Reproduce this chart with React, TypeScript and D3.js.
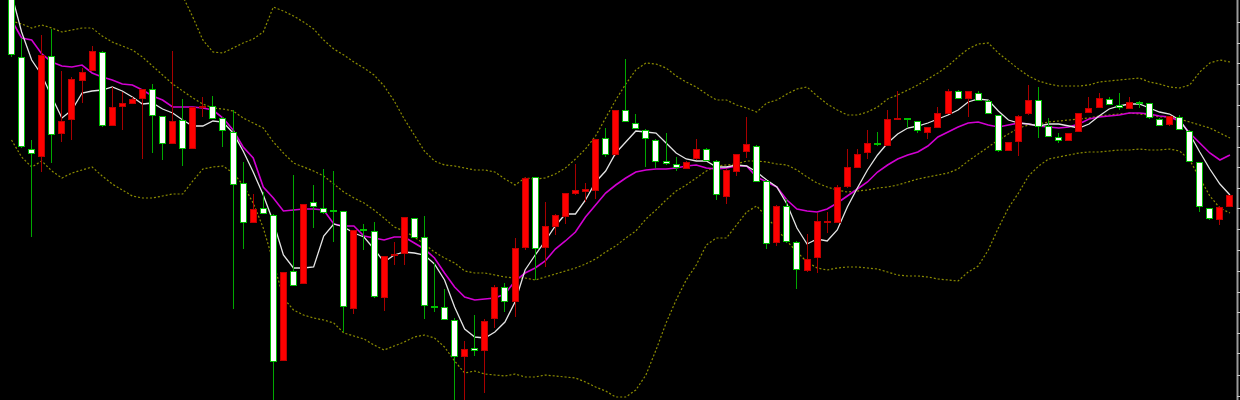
import React, { useEffect, useRef } from 'react';
import * as d3 from 'd3';

const WIDTH = 1240;
const HEIGHT = 400;

// candles, oldest first (quotes)
const open = [
  1.1404, 1.1343, 1.1251, 1.1243, 1.1344, 1.1266, 1.1280, 1.1319, 1.1329, 1.1348,
  1.1274, 1.1293, 1.1296, 1.1301, 1.1311, 1.1284, 1.1256, 1.1280, 1.1251, 1.1292,
  1.1294, 1.1282, 1.1268, 1.1217, 1.1177, 1.1192, 1.1185, 1.1039, 1.1129, 1.1116,
  1.1198, 1.1192, 1.1190, 1.1189, 1.1091, 1.1171, 1.1169, 1.1102, 1.1144, 1.1146,
  1.1182, 1.1163, 1.1094, 1.1093, 1.1080, 1.1043, 1.1052, 1.1049, 1.1081, 1.1113,
  1.1098, 1.1152, 1.1223, 1.1152, 1.1173, 1.1183, 1.1206, 1.1208, 1.1209, 1.1262,
  1.1245, 1.1290, 1.1277, 1.1270, 1.1260, 1.1239, 1.1236, 1.1231, 1.1241, 1.1251,
  1.1239, 1.1203, 1.1228, 1.1248, 1.1254, 1.1219, 1.1157, 1.1194, 1.1158, 1.1129,
  1.1142, 1.1178, 1.1177, 1.1213, 1.1232, 1.1247, 1.1257, 1.1254, 1.1281, 1.1282,
  1.1279, 1.1267, 1.1272, 1.1286, 1.1309, 1.1301, 1.1307, 1.1299, 1.1285, 1.1249,
  1.1258, 1.1286, 1.1300, 1.1274, 1.1263, 1.1259, 1.1268, 1.1287, 1.1292, 1.1301,
  1.1295, 1.1291, 1.1298, 1.1297, 1.1281, 1.1275, 1.1283, 1.1269, 1.1238, 1.1192,
  1.1180, 1.1193,
];
const high = [
  1.1410, 1.1362, 1.1260, 1.1365, 1.1371, 1.1329, 1.1323, 1.1332, 1.1354, 1.1349,
  1.1313, 1.1308, 1.1303, 1.1311, 1.1316, 1.1284, 1.1349, 1.1301, 1.1293, 1.1303,
  1.1304, 1.1283, 1.1290, 1.1238, 1.1206, 1.1208, 1.1186, 1.1128, 1.1225, 1.1196,
  1.1215, 1.1231, 1.1229, 1.1189, 1.1170, 1.1176, 1.1178, 1.1144, 1.1158, 1.1183,
  1.1182, 1.1184, 1.1137, 1.1111, 1.1082, 1.1059, 1.1085, 1.1081, 1.1115, 1.1117,
  1.1162, 1.1223, 1.1223, 1.1198, 1.1186, 1.1207, 1.1236, 1.1217, 1.1261, 1.1272,
  1.1290, 1.1341, 1.1286, 1.1271, 1.1261, 1.1267, 1.1243, 1.1239, 1.1261, 1.1252,
  1.1240, 1.1231, 1.1246, 1.1283, 1.1255, 1.1220, 1.1195, 1.1201, 1.1159, 1.1166,
  1.1187, 1.1188, 1.1215, 1.1251, 1.1251, 1.1270, 1.1268, 1.1290, 1.1309, 1.1282,
  1.1279, 1.1273, 1.1293, 1.1311, 1.1310, 1.1309, 1.1309, 1.1300, 1.1285, 1.1258,
  1.1285, 1.1315, 1.1313, 1.1282, 1.1267, 1.1267, 1.1287, 1.1303, 1.1307, 1.1303,
  1.1307, 1.1303, 1.1299, 1.1297, 1.1282, 1.1284, 1.1285, 1.1270, 1.1238, 1.1192,
  1.1194, 1.1205,
];
const low = [
  1.1343, 1.1252, 1.1163, 1.1228, 1.1237, 1.1258, 1.1260, 1.1297, 1.1329, 1.1273,
  1.1274, 1.1270, 1.1296, 1.1241, 1.1247, 1.1240, 1.1256, 1.1234, 1.1251, 1.1283,
  1.1281, 1.1253, 1.1091, 1.1151, 1.1177, 1.1186, 1.0990, 1.1039, 1.1114, 1.1116,
  1.1172, 1.1186, 1.1158, 1.1068, 1.1086, 1.1150, 1.1102, 1.1089, 1.1135, 1.1135,
  1.1162, 1.1081, 1.1088, 1.1080, 1.0990, 1.0990, 1.1044, 1.1007, 1.1072, 1.1088,
  1.1083, 1.1150, 1.1120, 1.1133, 1.1165, 1.1176, 1.1205, 1.1198, 1.1201, 1.1243,
  1.1244, 1.1278, 1.1271, 1.1233, 1.1232, 1.1235, 1.1229, 1.1231, 1.1240, 1.1239,
  1.1200, 1.1196, 1.1224, 1.1242, 1.1218, 1.1151, 1.1154, 1.1157, 1.1111, 1.1128,
  1.1127, 1.1167, 1.1177, 1.1212, 1.1232, 1.1241, 1.1254, 1.1254, 1.1280, 1.1272,
  1.1267, 1.1261, 1.1272, 1.1286, 1.1301, 1.1283, 1.1299, 1.1286, 1.1248, 1.1249,
  1.1244, 1.1285, 1.1262, 1.1263, 1.1257, 1.1259, 1.1268, 1.1287, 1.1292, 1.1295,
  1.1290, 1.1291, 1.1292, 1.1281, 1.1274, 1.1274, 1.1270, 1.1238, 1.1188, 1.1180,
  1.1175, 1.1193,
];
const close = [
  1.1345, 1.1253, 1.1246, 1.1345, 1.1265, 1.1279, 1.1321, 1.1328, 1.1349, 1.1274,
  1.1293, 1.1297, 1.1301, 1.1311, 1.1284, 1.1256, 1.1279, 1.1251, 1.1293, 1.1294,
  1.1281, 1.1269, 1.1215, 1.1177, 1.1191, 1.1186, 1.1038, 1.1128, 1.1114, 1.1196,
  1.1193, 1.1187, 1.1189, 1.1093, 1.1170, 1.1169, 1.1103, 1.1144, 1.1146, 1.1183,
  1.1162, 1.1094, 1.1093, 1.1080, 1.1043, 1.1051, 1.1049, 1.1079, 1.1113, 1.1098,
  1.1152, 1.1222, 1.1151, 1.1174, 1.1185, 1.1207, 1.1210, 1.1211, 1.1261, 1.1245,
  1.1290, 1.1278, 1.1271, 1.1261, 1.1238, 1.1236, 1.1232, 1.1238, 1.1251, 1.1239,
  1.1205, 1.1230, 1.1246, 1.1256, 1.1218, 1.1156, 1.1194, 1.1158, 1.1130, 1.1141,
  1.1179, 1.1179, 1.1213, 1.1233, 1.1246, 1.1257, 1.1255, 1.1281, 1.1282, 1.1280,
  1.1269, 1.1273, 1.1287, 1.1309, 1.1301, 1.1309, 1.1299, 1.1286, 1.1249, 1.1258,
  1.1284, 1.1300, 1.1273, 1.1263, 1.1259, 1.1267, 1.1287, 1.1292, 1.1302, 1.1295,
  1.1292, 1.1298, 1.1296, 1.1282, 1.1274, 1.1284, 1.1270, 1.1238, 1.1193, 1.1181,
  1.1193, 1.1205,
];

// indicator lines, one value per candle
const maFast = [
  1.1406, 1.1368, 1.1340, 1.1325, 1.1303, 1.1282, 1.1290, 1.1307, 1.1309, 1.1310,
  1.1313, 1.1309, 1.1303, 1.1296, 1.1297, 1.1291, 1.1287, 1.1280, 1.1274, 1.1274,
  1.1279, 1.1278, 1.1267, 1.1249, 1.1228, 1.1205, 1.1178, 1.1145, 1.1132, 1.1132,
  1.1133, 1.1164, 1.1176, 1.1173, 1.1167, 1.1163, 1.1151, 1.1138, 1.1145, 1.1148,
  1.1147, 1.1145, 1.1136, 1.1120, 1.1093, 1.1071, 1.1063, 1.1062, 1.1068, 1.1078,
  1.1098, 1.1130, 1.1145, 1.1159, 1.1174, 1.1186, 1.1186, 1.1200, 1.1218, 1.1229,
  1.1247, 1.1258, 1.1269, 1.1268, 1.1267, 1.1257, 1.1247, 1.1241, 1.1239, 1.1239,
  1.1233, 1.1233, 1.1235, 1.1234, 1.1228, 1.1220, 1.1213, 1.1196, 1.1172, 1.1156,
  1.1161, 1.1159, 1.1170, 1.1193, 1.1212, 1.1230, 1.1245, 1.1257, 1.1266, 1.1272,
  1.1274, 1.1277, 1.1281, 1.1285, 1.1290, 1.1298, 1.1301, 1.1300, 1.1289, 1.1280,
  1.1277, 1.1276, 1.1274, 1.1276, 1.1276, 1.1274, 1.1272, 1.1276, 1.1284, 1.1291,
  1.1294, 1.1296, 1.1296, 1.1292, 1.1288, 1.1286, 1.1280, 1.1266, 1.1248, 1.1231,
  1.1216, 1.1205,
];
const maSlow = [
  1.1380, 1.1362, 1.1360, 1.1346, 1.1338, 1.1334, 1.1333, 1.1335, 1.1327, 1.1323,
  1.1320, 1.1316, 1.1315, 1.1310, 1.1304, 1.1300, 1.1293, 1.1293, 1.1293, 1.1292,
  1.1290, 1.1282, 1.1270, 1.1253, 1.1242, 1.1213, 1.1202, 1.1189, 1.1190, 1.1191,
  1.1191, 1.1190, 1.1176, 1.1174, 1.1174, 1.1164, 1.1162, 1.1160, 1.1163, 1.1163,
  1.1157, 1.1151, 1.1142, 1.1127, 1.1113, 1.1103, 1.1100, 1.1101, 1.1102, 1.1106,
  1.1119, 1.1127, 1.1132, 1.1139, 1.1151, 1.1159, 1.1168, 1.1183, 1.1195, 1.1207,
  1.1215, 1.1222, 1.1228, 1.1230, 1.1231, 1.1231, 1.1232, 1.1234, 1.1235, 1.1232,
  1.1231, 1.1232, 1.1234, 1.1234, 1.1223, 1.1218, 1.1213, 1.1200, 1.1191, 1.1189,
  1.1188, 1.1191, 1.1197, 1.1204, 1.1211, 1.1218, 1.1228, 1.1235, 1.1241, 1.1245,
  1.1248, 1.1254, 1.1263, 1.1268, 1.1273, 1.1277, 1.1278, 1.1275, 1.1273, 1.1275,
  1.1277, 1.1276, 1.1274, 1.1273, 1.1272, 1.1273, 1.1276, 1.1281, 1.1283, 1.1284,
  1.1285, 1.1287, 1.1287, 1.1286, 1.1284, 1.1283, 1.1279, 1.1267, 1.1257, 1.1247,
  1.1240, 1.1245,
];
// upper band is above the window for the first bars
const bbUpper = [
  null, null, null, null, null, null, null, null, null, null,
  null, null, null, null, null, null, 1.1422, 1.1404, 1.1383, 1.1360,
  1.1348, 1.1347, 1.1352, 1.1357, 1.1361, 1.1368, 1.1393, 1.1389, 1.1384, 1.1378,
  1.1371, 1.1360, 1.1351, 1.1345, 1.1338, 1.1332, 1.1325, 1.1314, 1.1299, 1.1281,
  1.1265, 1.1249, 1.1239, 1.1235, 1.1234, 1.1232, 1.1230, 1.1230, 1.1228, 1.1221,
  1.1215, 1.1222, 1.1221, 1.1222, 1.1226, 1.1232, 1.1241, 1.1251, 1.1264, 1.1282,
  1.1300, 1.1316, 1.1330, 1.1337, 1.1336, 1.1332, 1.1324, 1.1318, 1.1313, 1.1306,
  1.1300, 1.1300, 1.1295, 1.1292, 1.1288, 1.1297, 1.1300, 1.1306, 1.1311, 1.1313,
  1.1304, 1.1296, 1.1290, 1.1285, 1.1285, 1.1288, 1.1293, 1.1301, 1.1305, 1.1310,
  1.1315, 1.1321, 1.1327, 1.1334, 1.1343, 1.1351, 1.1356, 1.1357, 1.1347, 1.1339,
  1.1331, 1.1324, 1.1319, 1.1316, 1.1314, 1.1314, 1.1314, 1.1315, 1.1318, 1.1319,
  1.1320, 1.1321, 1.1322, 1.1318, 1.1316, 1.1313, 1.1312, 1.1315, 1.1328, 1.1337,
  1.1340, 1.1338,
];
const bbMiddle = [
  1.1379, 1.1376, 1.1372, 1.1375, 1.1372, 1.1368, 1.1370, 1.1372, 1.1372, 1.1364,
  1.1358, 1.1354, 1.1350, 1.1343, 1.1334, 1.1325, 1.1316, 1.1309, 1.1302, 1.1296,
  1.1292, 1.1291, 1.1289, 1.1282, 1.1277, 1.1272, 1.1258, 1.1247, 1.1237, 1.1233,
  1.1229, 1.1224, 1.1216, 1.1208, 1.1202, 1.1197, 1.1190, 1.1182, 1.1173, 1.1169,
  1.1163, 1.1156, 1.1148, 1.1142, 1.1137, 1.1129, 1.1127, 1.1127, 1.1125, 1.1123,
  1.1122, 1.1122, 1.1120, 1.1123, 1.1126, 1.1129, 1.1132, 1.1136, 1.1141, 1.1148,
  1.1154, 1.1162, 1.1169, 1.1181, 1.1190, 1.1200, 1.1209, 1.1215, 1.1222, 1.1229,
  1.1234, 1.1235, 1.1236, 1.1239, 1.1239, 1.1238, 1.1236, 1.1235, 1.1230, 1.1223,
  1.1217, 1.1213, 1.1210, 1.1208, 1.1209, 1.1210, 1.1212, 1.1213, 1.1215, 1.1218,
  1.1221, 1.1223, 1.1225, 1.1227, 1.1231, 1.1239, 1.1246, 1.1253, 1.1260, 1.1266,
  1.1272, 1.1275, 1.1276, 1.1278, 1.1279, 1.1280, 1.1281, 1.1282, 1.1284, 1.1285,
  1.1286, 1.1287, 1.1286, 1.1285, 1.1283, 1.1283, 1.1281, 1.1278, 1.1275, 1.1272,
  1.1267, 1.1262,
];
const bbLower = [
  1.1260, 1.1243, 1.1233, 1.1239, 1.1229, 1.1222, 1.1227, 1.1230, 1.1233, 1.1224,
  1.1216, 1.1210, 1.1204, 1.1202, 1.1202, 1.1204, 1.1206, 1.1206, 1.1219, 1.1231,
  1.1233, 1.1234, 1.1227, 1.1215, 1.1197, 1.1172, 1.1138, 1.1102, 1.1090, 1.1085,
  1.1082, 1.1080, 1.1077, 1.1067, 1.1064, 1.1061, 1.1055, 1.1050, 1.1054, 1.1058,
  1.1063, 1.1065, 1.1062, 1.1053, 1.1039, 1.1027, 1.1029, 1.1026, 1.1025, 1.1024,
  1.1026, 1.1023, 1.1023, 1.1025, 1.1024, 1.1023, 1.1022, 1.1018, 1.1013, 1.1009,
  1.1003, 1.1003, 1.1010, 1.1025, 1.1050, 1.1077, 1.1100, 1.1120, 1.1135, 1.1155,
  1.1162, 1.1162, 1.1175, 1.1188, 1.1194, 1.1183, 1.1171, 1.1159, 1.1148, 1.1138,
  1.1132, 1.1130, 1.1132, 1.1133, 1.1133, 1.1132, 1.1131, 1.1128, 1.1125, 1.1124,
  1.1124, 1.1123, 1.1121, 1.1120, 1.1119, 1.1128, 1.1134, 1.1150, 1.1172, 1.1192,
  1.1207, 1.1224, 1.1234, 1.1241, 1.1243, 1.1245, 1.1247, 1.1248, 1.1248, 1.1249,
  1.1250, 1.1250, 1.1251, 1.1250, 1.1250, 1.1251, 1.1249, 1.1240, 1.1222, 1.1204,
  1.1192, 1.1187,
];

// price scale notches on the right edge (no labels in the picture)
const priceTicks = [
  1.1378, 1.1357, 1.1337, 1.1316, 1.1295, 1.1274, 1.1253, 1.1233, 1.1212, 1.1192,
  1.1171, 1.1150, 1.1129, 1.1108, 1.1088, 1.1067, 1.1047, 1.1025, 1.1004,
];

const PLOT_RIGHT = 1236;

export default function App() {
  const svgRef = useRef<SVGSVGElement>(null);

  useEffect(() => {
    if (!svgRef.current) return;
    const svg = d3.select(svgRef.current);
    svg.selectAll('*').remove();

    const idx = d3.range(open.length);
    const x = d3.scaleBand<number>().domain(idx).range([6.5, 1235]);
    const y = d3.scaleLinear().domain([1.1, 1.14]).range([HEIGHT, 0]);
    const mid = (i: number) => (x(i) as number) + x.bandwidth() / 2;
    const cx = (i: number) => Math.floor(mid(i)) + 0.5;

    svg.append('rect').attr('width', WIDTH).attr('height', HEIGHT).attr('fill', '#000');

    svg.append('defs').append('clipPath').attr('id', 'plot-clip')
      .append('rect').attr('width', PLOT_RIGHT).attr('height', HEIGHT);
    const g = svg.append('g').attr('clip-path', 'url(#plot-clip)');

    const pathFor = (vals: (number | null)[]) =>
      d3.line<number>()
        .defined(i => vals[i] != null)
        .x(i => mid(i))
        .y(i => y(vals[i] as number))(idx);

    // bollinger bands
    [bbUpper, bbMiddle, bbLower].forEach(vals => {
      g.append('path')
        .attr('d', pathFor(vals))
        .attr('fill', 'none')
        .attr('stroke', '#8c8c00')
        .attr('stroke-width', 1.2)
        .attr('stroke-dasharray', '2,2');
    });

    // moving averages
    g.append('path')
      .attr('d', pathFor(maSlow))
      .attr('fill', 'none')
      .attr('stroke', '#d200d2')
      .attr('stroke-width', 1.6);
    g.append('path')
      .attr('d', pathFor(maFast))
      .attr('fill', 'none')
      .attr('stroke', '#e4e4e4')
      .attr('stroke-width', 1.3);

    // candles on top: rising = red, falling = white with green outline
    const up = (i: number) => close[i] > open[i];
    const candles = g.selectAll('g.candle').data(idx).enter().append('g').attr('class', 'candle');

    candles.append('line')
      .attr('x1', cx).attr('x2', cx)
      .attr('y1', i => y(high[i]))
      .attr('y2', i => y(low[i]))
      .attr('stroke', i => (up(i) ? '#a80000' : '#00a800'))
      .attr('stroke-width', 1);

    candles.append('rect')
      .attr('x', i => cx(i) - 3)
      .attr('width', 6)
      .attr('y', i => Math.round(y(Math.max(open[i], close[i]))) + 0.5)
      .attr('height', i => Math.max(1, Math.round(y(Math.min(open[i], close[i]))) - Math.round(y(Math.max(open[i], close[i]))) - 1))
      .attr('fill', i => (up(i) ? '#ff0000' : '#ffffff'))
      .attr('stroke', i => (up(i) ? '#c00000' : '#00c000'))
      .attr('stroke-width', 1);

    // right price scale
    const axis = svg.append('g');
    axis.append('line')
      .attr('x1', 1237.5).attr('x2', 1237.5)
      .attr('y1', 0).attr('y2', HEIGHT)
      .attr('stroke', '#9a9a9a')
      .attr('stroke-width', 2);
    axis.selectAll('line.tick').data(priceTicks).enter().append('line')
      .attr('class', 'tick')
      .attr('x1', 1237).attr('x2', 1240)
      .attr('y1', d => Math.round(y(d)) + 0.5)
      .attr('y2', d => Math.round(y(d)) + 0.5)
      .attr('stroke', '#c8c8c8')
      .attr('stroke-width', 1);
  }, []);

  return (
    <div style={{ position: 'fixed', left: 0, top: 0, width: WIDTH, height: HEIGHT, background: '#000' }}>
      <svg ref={svgRef} width={WIDTH} height={HEIGHT} style={{ display: 'block' }} />
    </div>
  );
}
